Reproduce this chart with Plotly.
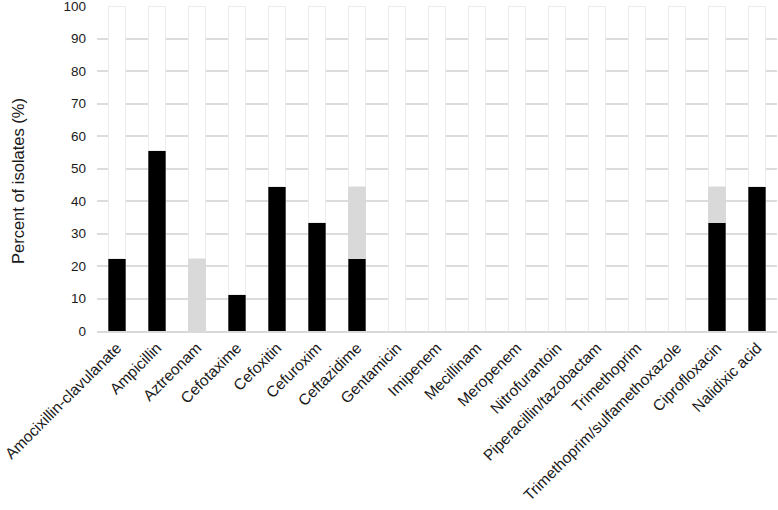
import plotly.graph_objects as go

# Antimicrobials and percent of isolates (n = 9)
drugs = [
    "Amocixillin-clavulanate", "Ampicillin", "Aztreonam", "Cefotaxime",
    "Cefoxitin", "Cefuroxim", "Ceftazidime", "Gentamicin", "Imipenem",
    "Mecillinam", "Meropenem", "Nitrofurantoin", "Piperacillin/tazobactam",
    "Trimethoprim", "Trimethoprim/sulfamethoxazole", "Ciprofloxacin",
    "Nalidixic acid",
]
resistant = [22.2, 55.6, 0, 11.1, 44.4, 33.3, 22.2, 0, 0, 0, 0, 0, 0, 0, 0, 33.3, 44.4]
intermediate = [0, 0, 22.2, 0, 0, 0, 22.2, 0, 0, 0, 0, 0, 0, 0, 0, 11.1, 0]
susceptible = [round(100 - r - i, 1) for r, i in zip(resistant, intermediate)]

fig = go.Figure()
fig.add_trace(go.Bar(x=drugs, y=resistant, name="Resistant",
                     marker=dict(color="#000000", line=dict(color="#808080", width=0.6))))
fig.add_trace(go.Bar(x=drugs, y=intermediate, name="Intermediate",
                     marker=dict(color="#d9d9d9", line=dict(color="#d9d9d9", width=0.6))))
fig.add_trace(go.Bar(x=drugs, y=susceptible, name="Susceptible",
                     marker=dict(color="#ffffff", line=dict(color="#ececec", width=1))))

fig.update_layout(
    width=778, height=510,
    barmode="stack", bargap=0.56,
    showlegend=False,
    plot_bgcolor="white", paper_bgcolor="white",
    margin=dict(l=97, r=1, t=6, b=179),
    font=dict(family="Liberation Sans, Arial, sans-serif", color="#1a1a1a", size=13),
)
fig.update_xaxes(
    tickangle=-45, tickfont=dict(size=15.5, color="#1a1a1a"),
    showline=True, linecolor="#d9d9d9", linewidth=1.5,
    showgrid=False, ticks="", automargin=False,
)
fig.update_yaxes(
    range=[0, 100.01], tickvals=list(range(0, 101, 10)),
    showgrid=True, gridcolor="#dcdcdc", gridwidth=1.5,
    zeroline=False, ticks="", ticklabelstandoff=10, automargin=False,
    ticklabeloverflow="allow",
    tickfont=dict(size=13.5, color="#1a1a1a"),
)
# axis title placed as an annotation so it sits where the reference has it
fig.add_annotation(
    text="Percent of isolates (%)", textangle=-90,
    xref="paper", yref="paper", x=-0.1169, y=0.46,
    xanchor="center", yanchor="middle",
    showarrow=False, font=dict(size=16.5, color="#1a1a1a"),
)

fig.write_html("out.html", config={"displayModeBar": False},
               post_script="document.body.style.margin='0';")
